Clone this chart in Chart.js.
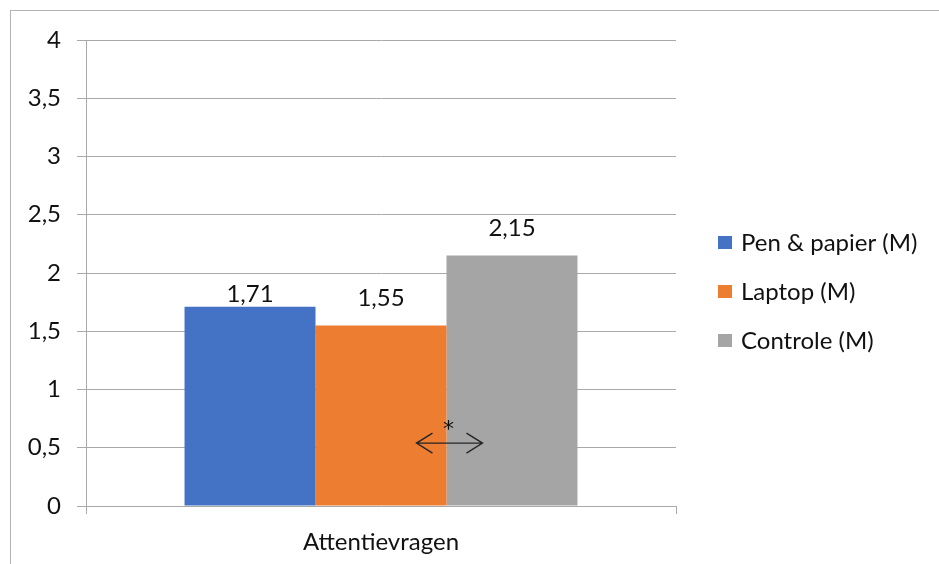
<!DOCTYPE html>
<html>
<head>
<meta charset="utf-8">
<script src="https://cdn.jsdelivr.net/npm/chart.js@4/dist/chart.umd.min.js"></script>
<style>
  html, body { margin: 0; padding: 0; background: #fff; }
  #wrap { position: relative; width: 939px; height: 564px; overflow: hidden; }
  #frame { position: absolute; left: 10px; top: 10px; right: -2px; bottom: -2px;
           border-top: 1px solid #b4b4b4; border-left: 1px solid #b4b4b4; pointer-events: none; }
  canvas { position: absolute; left: 0; top: 0; }
</style>
</head>
<body>
<div id="wrap">
  <canvas id="c" width="939" height="564"></canvas>
  <div id="frame"></div>
</div>
<script>
// Category, series and tick labels
const categories = ['Attentievragen'];
const seriesNames = ['Pen & papier (M)', 'Laptop (M)', 'Controle (M)'];
const penPapier = [1.71];
const laptop = [1.55];
const controle = [2.15];
const yTickLabels = ['0', '0,5', '1', '1,5', '2', '2,5', '3', '3,5', '4'];
const significanceMark = '*';

const colors = ['#4472C4', '#ED7D31', '#A5A5A5'];
const gridColor = '#a9a9a9';
const textColor = '#111111';
const fontFamily = 'Lato, "Noto Sans", sans-serif';
const fontSize = 24;

Chart.defaults.font.family = fontFamily;
Chart.defaults.font.size = fontSize;
Chart.defaults.color = textColor;

const fmt = v => String(v).replace('.', ',');

// Value labels above each bar
const valueLabels = {
  id: 'valueLabels',
  afterDatasetsDraw(chart) {
    const ctx = chart.ctx;
    ctx.save();
    ctx.font = fontSize + 'px ' + fontFamily;
    ctx.fillStyle = textColor;
    ctx.textAlign = 'center';
    ctx.textBaseline = 'middle';
    chart.data.datasets.forEach((ds, i) => {
      const meta = chart.getDatasetMeta(i);
      meta.data.forEach((bar, j) => {
        ctx.fillText(fmt(ds.data[j]), bar.x, bar.y - ds.labelGap);
      });
    });
    ctx.restore();
  }
};

// Double-headed arrow with asterisk between the laptop and control bars
const significance = {
  id: 'significance',
  afterDatasetsDraw(chart) {
    const ctx = chart.ctx;
    const a = chart.getDatasetMeta(1).data[0];
    const yScale = chart.scales.y;
    const edge = a.x + a.width / 2;
    const x1 = edge - 30, x2 = edge + 36;
    const y = yScale.getPixelForValue(0.54);
    ctx.save();
    ctx.strokeStyle = '#262626';
    ctx.lineWidth = 1.4;
    ctx.beginPath();
    ctx.moveTo(x1, y); ctx.lineTo(x2, y);
    ctx.moveTo(x1 + 16, y - 10); ctx.lineTo(x1, y); ctx.lineTo(x1 + 16, y + 10);
    ctx.moveTo(x2 - 16, y - 10); ctx.lineTo(x2, y); ctx.lineTo(x2 - 16, y + 10);
    ctx.stroke();
    ctx.fillStyle = textColor;
    ctx.font = '22px "DejaVu Sans", sans-serif';
    ctx.textAlign = 'center';
    ctx.textBaseline = 'alphabetic';
    ctx.fillText(significanceMark, edge + 2, y - 7);
    ctx.restore();
  }
};

// Legend drawn to the right of the plot
const sideLegend = {
  id: 'sideLegend',
  afterDraw(chart) {
    const ctx = chart.ctx;
    const x0 = chart.chartArea.right + 42;
    const yMid = 292;
    const step = 49;
    ctx.save();
    ctx.font = fontSize + 'px ' + fontFamily;
    ctx.textAlign = 'left';
    ctx.textBaseline = 'middle';
    chart.data.datasets.forEach((ds, i) => {
      const y = yMid + (i - 1) * step;
      ctx.fillStyle = ds.backgroundColor;
      ctx.fillRect(x0, y - 7, 14, 13);
      ctx.fillStyle = textColor;
      ctx.fillText(ds.label, x0 + 23, y);
    });
    ctx.restore();
  }
};

new Chart(document.getElementById('c'), {
  type: 'bar',
  data: {
    labels: categories,
    datasets: [
      { label: seriesNames[0], data: penPapier, backgroundColor: colors[0], labelGap: 13 },
      { label: seriesNames[1], data: laptop, backgroundColor: colors[1], labelGap: 27 },
      { label: seriesNames[2], data: controle, backgroundColor: colors[2], labelGap: 27 }
    ]
  },
  options: {
    responsive: false,
    animation: false,
    events: [],
    layout: { padding: { top: 40, left: 0, right: 263, bottom: 0 } },
    datasets: { bar: { categoryPercentage: 0.666, barPercentage: 1.0 } },
    plugins: { legend: { display: false }, tooltip: { enabled: false } },
    scales: {
      x: {
        grid: { offset: true, drawOnChartArea: false, drawTicks: true, tickLength: 8, color: gridColor },
        border: { display: false },
        ticks: { padding: 14, color: textColor, font: { size: fontSize } },
        afterFit(s) { s.height = 58; }
      },
      y: {
        min: 0, max: 4,
        ticks: {
          stepSize: 0.5, padding: 16, color: textColor, font: { size: fontSize },
          callback: (v, i) => yTickLabels[i]
        },
        grid: { color: gridColor, tickLength: 9, lineWidth: 1 },
        border: { display: true, color: gridColor },
        afterFit(s) { s.width = 86; }
      }
    }
  },
  plugins: [valueLabels, significance, sideLegend]
});
</script>
</body>
</html>
